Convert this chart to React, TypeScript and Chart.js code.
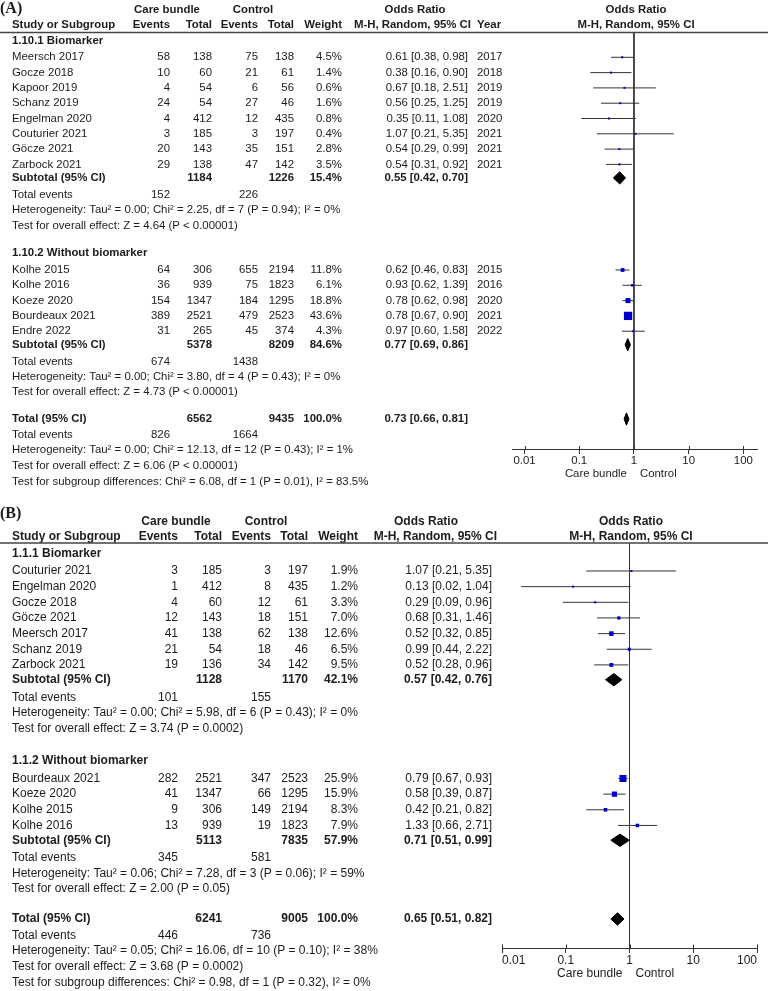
import React, { useEffect, useRef } from "react";
import { Chart, registerables } from "chart.js";

Chart.register(...registerables);

// ---------- axis ----------
const AXIS_TICKS = [0.01, 0.1, 1, 10, 100];
const AXIS_TICK_LABELS = ["0.01", "0.1", "1", "10", "100"];
const AXIS_LEFT_LABEL = "Care bundle";
const AXIS_RIGHT_LABEL = "Control";

// ---------- Panel A, subgroup 1.10.1 ----------
const A_BIO_STUDY = ["Meersch 2017", "Gocze 2018", "Kapoor 2019", "Schanz 2019", "Engelman 2020", "Couturier 2021", "Göcze 2021", "Zarbock 2021"];
const A_BIO_CB_EVENTS = [58, 10, 4, 24, 4, 3, 20, 29];
const A_BIO_CB_TOTAL = [138, 60, 54, 54, 412, 185, 143, 138];
const A_BIO_CT_EVENTS = [75, 21, 6, 27, 12, 3, 35, 47];
const A_BIO_CT_TOTAL = [138, 61, 56, 46, 435, 197, 151, 142];
const A_BIO_WEIGHT = [4.5, 1.4, 0.6, 1.6, 0.8, 0.4, 2.8, 3.5];
const A_BIO_OR = [0.61, 0.38, 0.67, 0.56, 0.35, 1.07, 0.54, 0.54];
const A_BIO_LO = [0.38, 0.16, 0.18, 0.25, 0.11, 0.21, 0.29, 0.31];
const A_BIO_HI = [0.98, 0.9, 2.51, 1.25, 1.08, 5.35, 0.99, 0.92];
const A_BIO_YEAR = [2017, 2018, 2019, 2019, 2020, 2021, 2021, 2021];
const A_BIO_SUB = [1184, 1226, 15.4, 0.55, 0.42, 0.7]; // cbTotal, ctTotal, weight, OR, lo, hi
const A_BIO_EVENTS = [152, 226];
const A_BIO_HET = "Heterogeneity: Tau² = 0.00; Chi² = 2.25, df = 7 (P = 0.94); I² = 0%";
const A_BIO_TEST = "Test for overall effect: Z = 4.64 (P < 0.00001)";

// ---------- Panel A, subgroup 1.10.2 ----------
const A_NOB_STUDY = ["Kolhe 2015", "Kolhe 2016", "Koeze 2020", "Bourdeaux 2021", "Endre 2022"];
const A_NOB_CB_EVENTS = [64, 36, 154, 389, 31];
const A_NOB_CB_TOTAL = [306, 939, 1347, 2521, 265];
const A_NOB_CT_EVENTS = [655, 75, 184, 479, 45];
const A_NOB_CT_TOTAL = [2194, 1823, 1295, 2523, 374];
const A_NOB_WEIGHT = [11.8, 6.1, 18.8, 43.6, 4.3];
const A_NOB_OR = [0.62, 0.93, 0.78, 0.78, 0.97];
const A_NOB_LO = [0.46, 0.62, 0.62, 0.67, 0.6];
const A_NOB_HI = [0.83, 1.39, 0.98, 0.9, 1.58];
const A_NOB_YEAR = [2015, 2016, 2020, 2021, 2022];
const A_NOB_SUB = [5378, 8209, 84.6, 0.77, 0.69, 0.86];
const A_NOB_EVENTS = [674, 1438];
const A_NOB_HET = "Heterogeneity: Tau² = 0.00; Chi² = 3.80, df = 4 (P = 0.43); I² = 0%";
const A_NOB_TEST = "Test for overall effect: Z = 4.73 (P < 0.00001)";

// ---------- Panel A, overall ----------
const A_TOTAL = [6562, 9435, 100.0, 0.73, 0.66, 0.81];
const A_TOTAL_EVENTS = [826, 1664];
const A_TOTAL_HET = "Heterogeneity: Tau² = 0.00; Chi² = 12.13, df = 12 (P = 0.43); I² = 1%";
const A_TOTAL_TEST = "Test for overall effect: Z = 6.06 (P < 0.00001)";
const A_SUBGROUP_TEST = "Test for subgroup differences: Chi² = 6.08, df = 1 (P = 0.01), I² = 83.5%";

// ---------- Panel B, subgroup 1.1.1 ----------
const B_BIO_STUDY = ["Couturier 2021", "Engelman 2020", "Gocze 2018", "Göcze 2021", "Meersch 2017", "Schanz 2019", "Zarbock 2021"];
const B_BIO_CB_EVENTS = [3, 1, 4, 12, 41, 21, 19];
const B_BIO_CB_TOTAL = [185, 412, 60, 143, 138, 54, 136];
const B_BIO_CT_EVENTS = [3, 8, 12, 18, 62, 18, 34];
const B_BIO_CT_TOTAL = [197, 435, 61, 151, 138, 46, 142];
const B_BIO_WEIGHT = [1.9, 1.2, 3.3, 7.0, 12.6, 6.5, 9.5];
const B_BIO_OR = [1.07, 0.13, 0.29, 0.68, 0.52, 0.99, 0.52];
const B_BIO_LO = [0.21, 0.02, 0.09, 0.31, 0.32, 0.44, 0.28];
const B_BIO_HI = [5.35, 1.04, 0.96, 1.46, 0.85, 2.22, 0.96];
const B_BIO_SUB = [1128, 1170, 42.1, 0.57, 0.42, 0.76];
const B_BIO_EVENTS = [101, 155];
const B_BIO_HET = "Heterogeneity: Tau² = 0.00; Chi² = 5.98, df = 6 (P = 0.43); I² = 0%";
const B_BIO_TEST = "Test for overall effect: Z = 3.74 (P = 0.0002)";

// ---------- Panel B, subgroup 1.1.2 ----------
const B_NOB_STUDY = ["Bourdeaux 2021", "Koeze 2020", "Kolhe 2015", "Kolhe 2016"];
const B_NOB_CB_EVENTS = [282, 41, 9, 13];
const B_NOB_CB_TOTAL = [2521, 1347, 306, 939];
const B_NOB_CT_EVENTS = [347, 66, 149, 19];
const B_NOB_CT_TOTAL = [2523, 1295, 2194, 1823];
const B_NOB_WEIGHT = [25.9, 15.9, 8.3, 7.9];
const B_NOB_OR = [0.79, 0.58, 0.42, 1.33];
const B_NOB_LO = [0.67, 0.39, 0.21, 0.66];
const B_NOB_HI = [0.93, 0.87, 0.82, 2.71];
const B_NOB_SUB = [5113, 7835, 57.9, 0.71, 0.51, 0.99];
const B_NOB_EVENTS = [345, 581];
const B_NOB_HET = "Heterogeneity: Tau² = 0.06; Chi² = 7.28, df = 3 (P = 0.06); I² = 59%";
const B_NOB_TEST = "Test for overall effect: Z = 2.00 (P = 0.05)";

// ---------- Panel B, overall ----------
const B_TOTAL = [6241, 9005, 100.0, 0.65, 0.51, 0.82];
const B_TOTAL_EVENTS = [446, 736];
const B_TOTAL_HET = "Heterogeneity: Tau² = 0.05; Chi² = 16.06, df = 10 (P = 0.10); I² = 38%";
const B_TOTAL_TEST = "Test for overall effect: Z = 3.68 (P = 0.0002)";
const B_SUBGROUP_TEST = "Test for subgroup differences: Chi² = 0.98, df = 1 (P = 0.32), I² = 0%";

// ---------- styling / layout ----------
const FONT_FAMILY = '"Liberation Sans", Arial, sans-serif';
const TEXT_COLOR = "#1c1c1c";
const LINE_COLOR = "#333333";
const SQUARE_COLOR = "#0000cc";

type Group = {
  title: string; study: string[]; cbE: number[]; cbT: number[]; ctE: number[]; ctT: number[];
  w: number[]; or: number[]; lo: number[]; hi: number[]; year?: number[];
  sub: number[]; events: number[]; het: string; test: string;
};

const PANEL_A = {
  tag: "(A)",
  top: 0,
  height: 495,
  groups: [
    { title: "1.10.1 Biomarker", study: A_BIO_STUDY, cbE: A_BIO_CB_EVENTS, cbT: A_BIO_CB_TOTAL, ctE: A_BIO_CT_EVENTS, ctT: A_BIO_CT_TOTAL, w: A_BIO_WEIGHT, or: A_BIO_OR, lo: A_BIO_LO, hi: A_BIO_HI, year: A_BIO_YEAR, sub: A_BIO_SUB, events: A_BIO_EVENTS, het: A_BIO_HET, test: A_BIO_TEST },
    { title: "1.10.2 Without biomarker", study: A_NOB_STUDY, cbE: A_NOB_CB_EVENTS, cbT: A_NOB_CB_TOTAL, ctE: A_NOB_CT_EVENTS, ctT: A_NOB_CT_TOTAL, w: A_NOB_WEIGHT, or: A_NOB_OR, lo: A_NOB_LO, hi: A_NOB_HI, year: A_NOB_YEAR, sub: A_NOB_SUB, events: A_NOB_EVENTS, het: A_NOB_HET, test: A_NOB_TEST },
  ] as Group[],
  total: A_TOTAL, totalEvents: A_TOTAL_EVENTS, totalHet: A_TOTAL_HET, totalTest: A_TOTAL_TEST, subgroupTest: A_SUBGROUP_TEST,
  hasYear: true,
  tickAlign: "center",
  squareK: 0.86,
  fs: 11.4,
  L: {
    tagY: 8.5, head1Y: 10, head2Y: 25, ruleY: 32.5,
    groupHeadY: [40.7, 252.5], firstRowY: [57.3, 270], rowStep: 15.3,
    subGap: 13.5, teGap: 16.7, lineStep: 15.4,
    totalY: 419, totalTeGap: 15.5, totalStep: 15.7, axisY: 449.5, careY: 473.5,
    axisLo: Math.pow(10, -2.23), axisHi: Math.pow(10, 2.25), plotLeft: 512, plotRight: 757,
    cols: { label: 12, cbE: 170, cbT: 212, ctE: 258, ctT: 294, w: 342, or: 468, year: 477 },
    headCare: 167, headCtrl: 253, headOR: 415, headMH: 471, headPlot: 636,
  },
};

const PANEL_B = {
  tag: "(B)",
  top: 495,
  height: 496,
  groups: [
    { title: "1.1.1 Biomarker", study: B_BIO_STUDY, cbE: B_BIO_CB_EVENTS, cbT: B_BIO_CB_TOTAL, ctE: B_BIO_CT_EVENTS, ctT: B_BIO_CT_TOTAL, w: B_BIO_WEIGHT, or: B_BIO_OR, lo: B_BIO_LO, hi: B_BIO_HI, sub: B_BIO_SUB, events: B_BIO_EVENTS, het: B_BIO_HET, test: B_BIO_TEST },
    { title: "1.1.2 Without biomarker", study: B_NOB_STUDY, cbE: B_NOB_CB_EVENTS, cbT: B_NOB_CB_TOTAL, ctE: B_NOB_CT_EVENTS, ctT: B_NOB_CT_TOTAL, w: B_NOB_WEIGHT, or: B_NOB_OR, lo: B_NOB_LO, hi: B_NOB_HI, sub: B_NOB_SUB, events: B_NOB_EVENTS, het: B_NOB_HET, test: B_NOB_TEST },
  ] as Group[],
  total: B_TOTAL, totalEvents: B_TOTAL_EVENTS, totalHet: B_TOTAL_HET, totalTest: B_TOTAL_TEST, subgroupTest: B_SUBGROUP_TEST,
  hasYear: false,
  tickAlign: "inner",
  squareK: 1.0,
  fs: 12,
  L: {
    tagY: 514, head1Y: 522, head2Y: 537, ruleY: 543,
    groupHeadY: [553.3, 761], firstRowY: [571, 778.5], rowStep: 15.65,
    subGap: 14.8, teGap: 17.5, lineStep: 15.5,
    totalY: 919, totalTeGap: 16.5, totalStep: 15.6, axisY: 948, careY: 974,
    axisLo: 0.01, axisHi: 100, plotLeft: 502, plotRight: 757,
    cols: { label: 12, cbE: 178, cbT: 222, ctE: 271, ctT: 308, w: 358, or: 492, year: 0 },
    headCare: 176, headCtrl: 266, headOR: 426, headMH: 497, headPlot: 631,
  },
};

type Panel = typeof PANEL_A;

type TextItem = { text: string; x: number; y: number; align: CanvasTextAlign; bold: boolean; serif?: boolean };

const fmtOR = (o: number, l: number, h: number) => `${o.toFixed(2)} [${l.toFixed(2)}, ${h.toFixed(2)}]`;
const fmtW = (w: number) => `${w.toFixed(1)}%`;

function buildPanel(P: Panel) {
  const L = P.L;
  const C = L.cols;
  const texts: TextItem[] = [];
  const studies: { or: number; lo: number; hi: number; w: number; y: number }[] = [];
  const diamonds: { or: number; lo: number; hi: number; y: number }[] = [];
  const T = (text: string | number, x: number, y: number, align: CanvasTextAlign = "left", bold = false) =>
    texts.push({ text: String(text), x, y, align, bold });

  texts.push({ text: P.tag, x: 0, y: L.tagY, align: "left", bold: true, serif: true });
  T("Care bundle", L.headCare, L.head1Y, "center", true);
  T("Control", L.headCtrl, L.head1Y, "center", true);
  T("Odds Ratio", L.headOR, L.head1Y, "center", true);
  T("Odds Ratio", L.headPlot, L.head1Y, "center", true);
  T("Study or Subgroup", C.label, L.head2Y, "left", true);
  T("Events", C.cbE, L.head2Y, "right", true);
  T("Total", C.cbT, L.head2Y, "right", true);
  T("Events", C.ctE, L.head2Y, "right", true);
  T("Total", C.ctT, L.head2Y, "right", true);
  T("Weight", C.w, L.head2Y, "right", true);
  T("M-H, Random, 95% CI", L.headMH, L.head2Y, "right", true);
  if (P.hasYear) T("Year", C.year, L.head2Y, "left", true);
  T("M-H, Random, 95% CI", L.headPlot, L.head2Y, "center", true);

  P.groups.forEach((g, gi) => {
    T(g.title, C.label, L.groupHeadY[gi], "left", true);
    const y0 = L.firstRowY[gi];
    g.study.forEach((name, i) => {
      const y = y0 + i * L.rowStep;
      T(name, C.label, y);
      T(g.cbE[i], C.cbE, y, "right");
      T(g.cbT[i], C.cbT, y, "right");
      T(g.ctE[i], C.ctE, y, "right");
      T(g.ctT[i], C.ctT, y, "right");
      T(fmtW(g.w[i]), C.w, y, "right");
      T(fmtOR(g.or[i], g.lo[i], g.hi[i]), C.or, y, "right");
      if (g.year) T(g.year[i], C.year, y, "left");
      studies.push({ or: g.or[i], lo: g.lo[i], hi: g.hi[i], w: g.w[i], y });
    });
    const sy = y0 + (g.study.length - 1) * L.rowStep + L.subGap;
    T("Subtotal (95% CI)", C.label, sy, "left", true);
    T(g.sub[0], C.cbT, sy, "right", true);
    T(g.sub[1], C.ctT, sy, "right", true);
    T(fmtW(g.sub[2]), C.w, sy, "right", true);
    T(fmtOR(g.sub[3], g.sub[4], g.sub[5]), C.or, sy, "right", true);
    diamonds.push({ or: g.sub[3], lo: g.sub[4], hi: g.sub[5], y: sy });
    const ey = sy + L.teGap;
    T("Total events", C.label, ey);
    T(g.events[0], C.cbE, ey, "right");
    T(g.events[1], C.ctE, ey, "right");
    T(g.het, C.label, ey + L.lineStep);
    T(g.test, C.label, ey + 2 * L.lineStep);
  });

  const ty = L.totalY;
  T("Total (95% CI)", C.label, ty, "left", true);
  T(P.total[0], C.cbT, ty, "right", true);
  T(P.total[1], C.ctT, ty, "right", true);
  T(fmtW(P.total[2]), C.w, ty, "right", true);
  T(fmtOR(P.total[3], P.total[4], P.total[5]), C.or, ty, "right", true);
  diamonds.push({ or: P.total[3], lo: P.total[4], hi: P.total[5], y: ty });
  const tey = ty + L.totalTeGap;
  T("Total events", C.label, tey);
  T(P.totalEvents[0], C.cbE, tey, "right");
  T(P.totalEvents[1], C.ctE, tey, "right");
  T(P.totalHet, C.label, tey + L.totalStep);
  T(P.totalTest, C.label, tey + 2 * L.totalStep);
  T(P.subgroupTest, C.label, tey + 3 * L.totalStep);

  return { texts, studies, diamonds };
}

function makeChart(canvas: HTMLCanvasElement, P: Panel) {
  const L = P.L;
  const FS = P.fs;
  const { texts, studies, diamonds } = buildPanel(P);
  const datasets: any[] = [];

  // line of no effect
  datasets.push({
    type: "line", data: [{ x: 1, y: L.ruleY }, { x: 1, y: L.axisY }],
    borderColor: LINE_COLOR, borderWidth: 1, pointRadius: 0, showLine: true, fill: false, order: 4,
  });
  // confidence intervals
  studies.forEach((s) => {
    datasets.push({
      type: "line", data: [{ x: s.lo, y: s.y }, { x: s.hi, y: s.y }],
      borderColor: LINE_COLOR, borderWidth: 1, pointRadius: 0, showLine: true, fill: false, order: 3,
    });
  });
  // weighted squares
  datasets.push({
    type: "scatter",
    data: studies.map((s) => ({ x: s.or, y: s.y })),
    pointStyle: "rect",
    pointRadius: studies.map((s) => Math.max(2, P.squareK * Math.pow(s.w, 0.6)) / Math.SQRT2),
    pointBackgroundColor: SQUARE_COLOR,
    backgroundColor: SQUARE_COLOR,
    pointBorderWidth: 0,
    borderWidth: 0,
    order: 1,
  });
  // diamonds
  diamonds.forEach((d) => {
    datasets.push({
      type: "line",
      data: [
        { x: d.lo, y: d.y }, { x: d.or, y: d.y - 6.2 }, { x: d.hi, y: d.y },
        { x: d.or, y: d.y + 6.2 }, { x: d.lo, y: d.y },
      ],
      borderColor: "#000", backgroundColor: "#000", borderWidth: 1, pointRadius: 0,
      showLine: true, fill: "shape", tension: 0, order: 0,
    });
  });

  const textPlugin = {
    id: "forestText",
    afterDraw(chart: any) {
      const ctx: CanvasRenderingContext2D = chart.ctx;
      const ys = chart.scales.y;
      const xs = chart.scales.x;
      ctx.save();
      ctx.textBaseline = "middle";
      ctx.fillStyle = TEXT_COLOR;
      texts.forEach((t) => {
        ctx.font = t.serif
          ? `bold 16px "Liberation Serif", "Times New Roman", serif`
          : `${t.bold ? "bold " : ""}${FS}px ${FONT_FAMILY}`;
        ctx.textAlign = t.align;
        ctx.fillText(t.text, t.x, ys.getPixelForValue(t.y));
      });
      // header rule
      const ry = ys.getPixelForValue(L.ruleY);
      ctx.strokeStyle = "#444";
      ctx.lineWidth = 1.5;
      ctx.beginPath();
      ctx.moveTo(0, ry);
      ctx.lineTo(chart.width, ry);
      ctx.stroke();
      // upper halves of the axis ticks
      const ay = ys.getPixelForValue(L.axisY);
      ctx.strokeStyle = LINE_COLOR;
      ctx.lineWidth = 1;
      AXIS_TICKS.forEach((v) => {
        const px = Math.round(xs.getPixelForValue(v)) + 0.5;
        ctx.beginPath();
        ctx.moveTo(px, ay - 3.5);
        ctx.lineTo(px, ay);
        ctx.stroke();
      });
      // favours labels
      const x1 = xs.getPixelForValue(1);
      const cy = ys.getPixelForValue(L.careY);
      ctx.font = `${FS}px ${FONT_FAMILY}`;
      ctx.fillStyle = TEXT_COLOR;
      ctx.textAlign = "right";
      ctx.fillText(AXIS_LEFT_LABEL, x1 - 7, cy);
      ctx.textAlign = "left";
      ctx.fillText(AXIS_RIGHT_LABEL, x1 + 6, cy);
      ctx.restore();
    },
  };

  return new Chart(canvas, {
    type: "scatter",
    data: { datasets },
    options: {
      animation: false,
      responsive: false,
      maintainAspectRatio: false,
      events: [],
      layout: { autoPadding: false, padding: { left: L.plotLeft, right: 768 - L.plotRight, top: 0, bottom: 0 } },
      plugins: { legend: { display: false }, tooltip: { enabled: false }, title: { display: false } },
      scales: {
        x: {
          type: "logarithmic",
          min: L.axisLo,
          max: L.axisHi,
          position: { y: L.axisY } as any,
          afterBuildTicks: (scale: any) => {
            scale.ticks = AXIS_TICKS.map((v) => ({ value: v }));
          },
          ticks: {
            autoSkip: false,
            maxRotation: 0,
            minRotation: 0,
            align: P.tickAlign as any,
            padding: 1,
            color: "#222",
            font: { family: FONT_FAMILY, size: FS },
            callback: (value: any) => {
              const i = AXIS_TICKS.findIndex((t) => Math.abs(Math.log10(t) - Math.log10(Number(value))) < 1e-6);
              return i >= 0 ? AXIS_TICK_LABELS[i] : "";
            },
          },
          grid: { display: true, drawOnChartArea: false, drawTicks: true, tickLength: 4, color: LINE_COLOR, lineWidth: 1 },
          border: { display: true, color: LINE_COLOR, width: 1 },
        },
        y: {
          type: "linear",
          display: false,
          min: P.top,
          max: P.top + P.height,
          reverse: true,
        },
      },
    },
    plugins: [textPlugin],
  } as any);
}

export default function App() {
  const refA = useRef<HTMLCanvasElement>(null);
  const refB = useRef<HTMLCanvasElement>(null);
  useEffect(() => {
    const charts = [makeChart(refA.current!, PANEL_A), makeChart(refB.current!, PANEL_B)];
    return () => charts.forEach((c) => c.destroy());
  }, []);
  return (
    <div style={{ position: "absolute", left: 0, top: 0, width: 768, height: 991, background: "#fff" }}>
      <canvas ref={refA} width={768} height={495} style={{ position: "absolute", left: 0, top: 0 }} />
      <canvas ref={refB} width={768} height={496} style={{ position: "absolute", left: 0, top: 495 }} />
    </div>
  );
}
